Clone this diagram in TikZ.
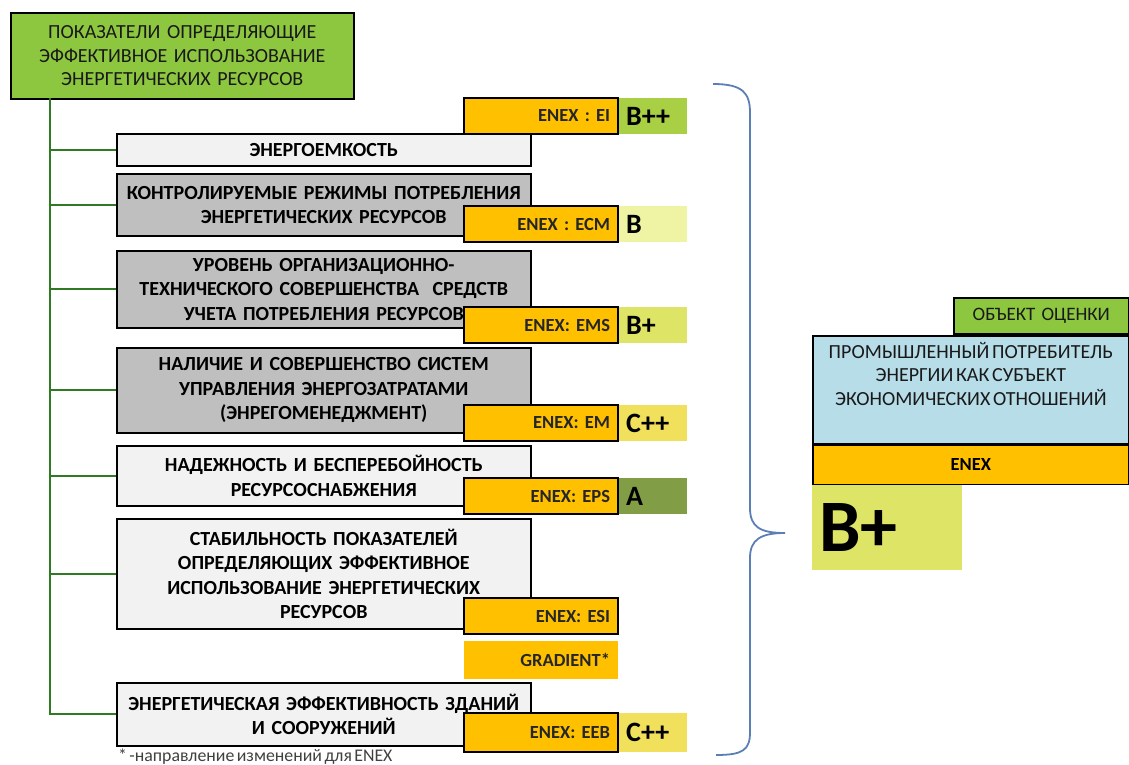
\documentclass[tikz,border=0pt]{standalone}
\usepackage{fontspec}
\setmainfont{Carlito}[WordSpace=0.6]
\usetikzlibrary{positioning}

\definecolor{hdrgreen}{HTML}{8DC63F}
\definecolor{critlight}{HTML}{F2F2F2}
\definecolor{critdark}{HTML}{BFBFBF}
\definecolor{enexorange}{HTML}{FFC000}
\definecolor{trunkgreen}{HTML}{2F7A22}
\definecolor{bracecol}{HTML}{5B7FB4}
\definecolor{consblue}{HTML}{B7DDE8}
\definecolor{gradeBpp}{HTML}{A9CF45}
\definecolor{gradeB}{HTML}{EEF4A3}
\definecolor{gradeBp}{HTML}{DDE466}
\definecolor{gradeCpp}{HTML}{F1E05C}
\definecolor{gradeA}{HTML}{819D46}

\begin{document}
\begin{tikzpicture}[
  x=1pt, y=-1pt,
  font=\fontsize{20}{23.5}\selectfont,
  box/.style={draw, line width=1.6pt, anchor=north west, inner sep=0pt, align=center},
  head/.style={box, fill=hdrgreen, text width=343pt, minimum height=86pt, text=black!90},
  crit/.style={box, text width=414pt, font=\fontsize{20}{24.5}\selectfont\bfseries},
  light/.style={crit, fill=critlight},
  dark/.style={crit, fill=critdark},
  enex/.style={box, line width=2pt, fill=enexorange, text width=138pt, inner xsep=8pt,
    minimum height=36pt, align=right, text=black!85, font=\fontsize{18.5}{22}\selectfont\bfseries},
  grade/.style={text width=54pt, inner xsep=7pt, inner ysep=0pt, minimum height=36pt,
    align=left, font=\fontsize{28}{30}\selectfont\bfseries},
  branch/.style={draw=trunkgreen, line width=2.2pt},
  note/.style={anchor=west, inner sep=0pt, text=black!75, font=\fontsize{17.8}{19}\selectfont}
]
\useasboundingbox (0,0) rectangle (1129,765);

\node[head] (hdr) at (10,12) {ПОКАЗАТЕЛИ ОПРЕДЕЛЯЮЩИЕ\\ЭФФЕКТИВНОЕ ИСПОЛЬЗОВАНИЕ\\ЭНЕРГЕТИЧЕСКИХ РЕСУРСОВ};

\node[light, minimum height=32pt] (c1) at (116,133) {ЭНЕРГОЕМКОСТЬ};
\node[dark, minimum height=62pt] (c2) at (116,173) {КОНТРОЛИРУЕМЫЕ РЕЖИМЫ ПОТРЕБЛЕНИЯ\\ЭНЕРГЕТИЧЕСКИХ РЕСУРСОВ};
\node[dark, minimum height=77pt] (c3) at (116,250) {УРОВЕНЬ ОРГАНИЗАЦИОННО-\\ТЕХНИЧЕСКОГО СОВЕРШЕНСТВА\ \ СРЕДСТВ\\УЧЕТА ПОТРЕБЛЕНИЯ РЕСУРСОВ};
\node[dark, minimum height=85pt] (c4) at (116,347) {НАЛИЧИЕ И СОВЕРШЕНСТВО СИСТЕМ\\УПРАВЛЕНИЯ ЭНЕРГОЗАТРАТАМИ\\(ЭНРЕГОМЕНЕДЖМЕНТ)};
\node[light, minimum height=60pt] (c5) at (116,445) {НАДЕЖНОСТЬ И БЕСПЕРЕБОЙНОСТЬ\\РЕСУРСОСНАБЖЕНИЯ};
\node[light, minimum height=110pt] (c6) at (116,518) {СТАБИЛЬНОСТЬ ПОКАЗАТЕЛЕЙ\\ОПРЕДЕЛЯЮЩИХ ЭФФЕКТИВНОЕ\\ИСПОЛЬЗОВАНИЕ ЭНЕРГЕТИЧЕСКИХ\\РЕСУРСОВ};
\node[light, minimum height=63pt] (c7) at (116,682) {ЭНЕРГЕТИЧЕСКАЯ ЭФФЕКТИВНОСТЬ ЗДАНИЙ\\И СООРУЖЕНИЙ};

\coordinate (top) at (50,98);
\draw[branch] (top) |- (c7.west);
\foreach \n in {1,...,6}
  \draw[branch] (top |- c\n.west) -- (c\n.west);

\node[enex] (e1) at (463,97) {ENEX : EI};
\node[grade, fill=gradeBpp, right=0pt of e1] (g1) {B++};
\node[enex] (e2) at (463,205) {ENEX : ECM};
\node[grade, fill=gradeB, right=0pt of e2] (g2) {B};
\node[enex] (e3) at (463,306) {ENEX: EMS};
\node[grade, fill=gradeBp, right=0pt of e3] (g3) {B+};
\node[enex] (e4) at (463,404) {ENEX: EM};
\node[grade, fill=gradeCpp, right=0pt of e4] (g4) {C++};
\node[enex] (e5) at (463,477) {ENEX: EPS};
\node[grade, fill=gradeA, right=0pt of e5] (g5) {A};
\node[enex] (e6) at (463,597) {ENEX: ESI};
\node[enex, draw=none, minimum height=38pt] (grad) at (463,640) {GRADIENT*};
\node[enex, minimum height=39pt] (e7) at (463,712) {ENEX: EEB};
\node[grade, fill=gradeCpp, minimum height=39pt, right=0pt of e7] (g7) {C++};

\draw[bracecol, line width=1.8pt]
  (713,84) .. controls (743,84) and (750,93) .. (750,113) -- (750,508)
  .. controls (750,527) and (760,533) .. (785,533)
  .. controls (760,533) and (750,540) .. (750,558) -- (750,732)
  .. controls (750,750) and (743,755) .. (716,755);

\node[box, fill=hdrgreen, text width=175pt, minimum height=36pt, font=\fontsize{19}{22}\selectfont, text=black!90] (obj) at (953,297) {ОБЪЕКТ ОЦЕНКИ};
\node[box, fill=consblue, text width=316pt, minimum height=108pt] (cons) at (812,335) {};
\node[below=7pt of cons.north, align=center, inner sep=0pt, text=black!90] (constxt) {ПРОМЫШЛЕННЫЙ ПОТРЕБИТЕЛЬ\\ЭНЕРГИИ КАК СУБЪЕКТ\\ЭКОНОМИЧЕСКИХ ОТНОШЕНИЙ};
\node[box, fill=enexorange, text width=316pt, minimum height=39pt, font=\fontsize{18.5}{22}\selectfont\bfseries] (enexall) at (cons.south west) {ENEX};
\node[anchor=north west, fill=gradeBp, text width=136pt, inner xsep=7pt, inner ysep=0pt, minimum height=85pt, align=left, font=\fontsize{74}{76}\selectfont\bfseries] (total) at (enexall.south west) {B+};

\node[note] (note) at (118,757) {* -направление изменений для ENEX};
\end{tikzpicture}
\end{document}
